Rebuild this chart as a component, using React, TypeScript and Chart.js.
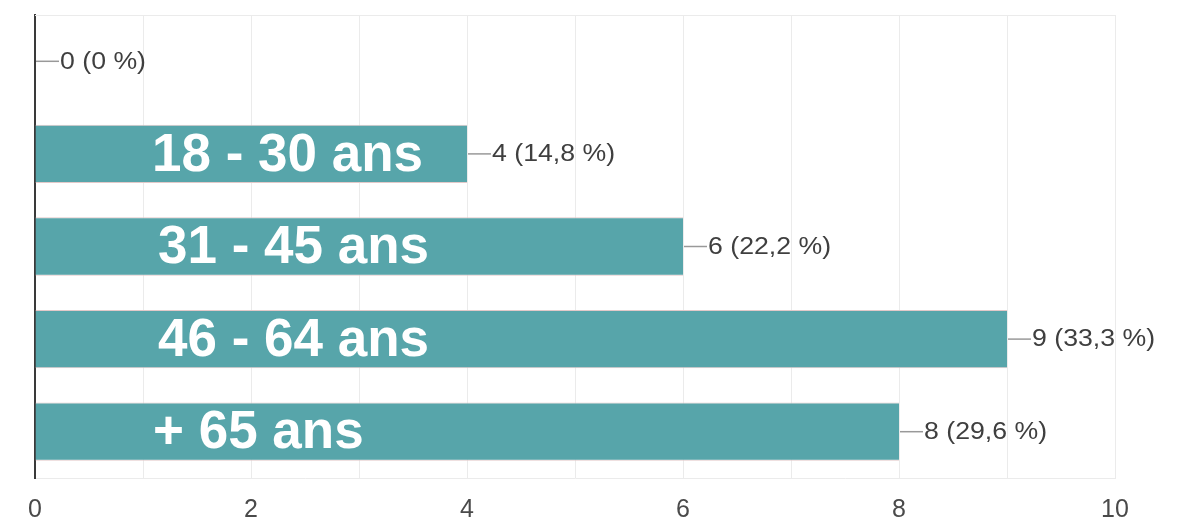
import React, { useEffect, useRef } from "react";
import { Chart, registerables } from "chart.js";

Chart.register(...registerables);

const categories = ["", "18 - 30 ans", "31 - 45 ans", "46 - 64 ans", "+ 65 ans"];
const counts = [0, 4, 6, 9, 8];
const percents = ["0", "14,8", "22,2", "33,3", "29,6"];
const xTickLabels = ["0", "2", "4", "6", "8", "10"];
const labelOffsets = [0, 117, 123, 123, 118];

const FONT = "'Liberation Sans', Arial, Helvetica, sans-serif";

const annotatePlugin = {
  id: "annotate",
  beforeDatasetsDraw(chart: any) {
    const { ctx, chartArea } = chart;
    ctx.save();
    ctx.strokeStyle = "#ebebeb";
    ctx.lineWidth = 1;
    ctx.beginPath();
    ctx.moveTo(chartArea.left, chartArea.top + 0.5);
    ctx.lineTo(chartArea.right, chartArea.top + 0.5);
    ctx.stroke();
    ctx.restore();
  },
  afterDatasetsDraw(chart: any) {
    const { ctx } = chart;
    const meta = chart.getDatasetMeta(0);
    const xScale = chart.scales.x;
    meta.data.forEach((bar: any, i: number) => {
      const endX = bar.x;
      const y = bar.y;
      ctx.save();
      ctx.strokeStyle = "#999999";
      ctx.lineWidth = 1.5;
      ctx.beginPath();
      ctx.moveTo(endX + 1, y);
      ctx.lineTo(endX + 24, y);
      ctx.stroke();
      ctx.translate(endX + 25, y);
      ctx.scale(1.16, 1);
      ctx.fillStyle = "#3f3f3f";
      ctx.font = `23px ${FONT}`;
      ctx.textAlign = "left";
      ctx.textBaseline = "middle";
      ctx.fillText(`${counts[i]} (${percents[i]} %)`, 0, 1);
      ctx.restore();

      if (categories[i]) {
        ctx.save();
        ctx.fillStyle = "#ffffff";
        ctx.font = `bold 53px ${FONT}`;
        ctx.textAlign = "left";
        ctx.textBaseline = "middle";
        ctx.fillText(categories[i], xScale.getPixelForValue(0) + labelOffsets[i], y + 2);
        ctx.restore();
      }
    });
  },
};

export default function App() {
  const ref = useRef<HTMLCanvasElement | null>(null);
  useEffect(() => {
    if (!ref.current) return;
    const chart = new Chart(ref.current, {
      type: "bar",
      data: {
        labels: categories,
        datasets: [
          {
            data: counts,
            backgroundColor: "#57a5aa",
            borderColor: "#e3c9c9",
            borderWidth: { top: 1, bottom: 1, left: 0, right: 0 } as any,
            borderSkipped: false,
            categoryPercentage: 1,
            barPercentage: 0.63,
          },
        ],
      },
      options: {
        indexAxis: "y",
        animation: false,
        responsive: false,
        maintainAspectRatio: false,
        layout: { padding: { top: 15, right: 74, left: 0, bottom: 0 } },
        plugins: { legend: { display: false }, tooltip: { enabled: false } },
        scales: {
          x: {
            min: 0,
            max: 10,
            afterFit: (s: any) => {
              s.height = 42;
            },
            ticks: {
              stepSize: 1,
              autoSkip: false,
              maxRotation: 0,
              padding: 17,
              color: "#4a4a4a",
              font: { family: FONT, size: 25 },
              callback: (v: any) => (Number(v) % 2 === 0 ? xTickLabels[Number(v) / 2] : ""),
            },
            grid: { color: "#ebebeb", lineWidth: 1, drawTicks: false },
            border: { display: true, color: "#ebebeb", width: 1 },
          },
          y: {
            afterFit: (s: any) => {
              s.width = 35;
            },
            ticks: { display: false },
            grid: { display: false, drawTicks: false },
            border: { display: true, color: "#3a3a3a", width: 2 },
          },
        },
      },
      plugins: [annotatePlugin],
    });
    return () => chart.destroy();
  }, []);
  return (
    <div style={{ position: "absolute", left: 0, top: 0, width: 1189, height: 520, background: "#fff" }}>
      <canvas ref={ref} width={1189} height={520} />
    </div>
  );
}
